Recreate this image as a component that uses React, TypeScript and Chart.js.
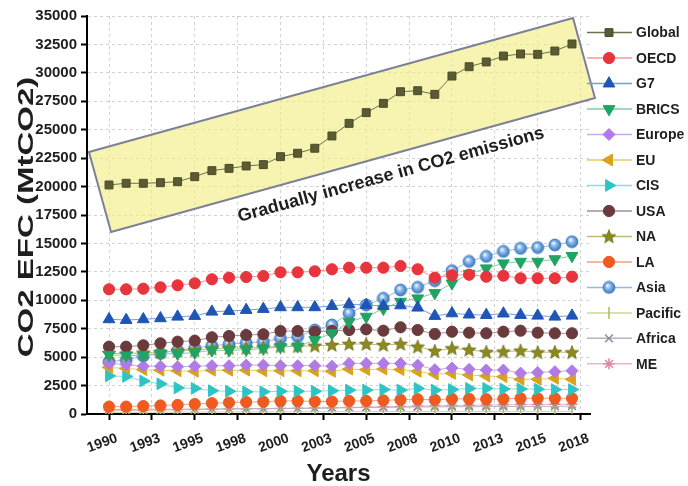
import React, { useEffect, useRef } from 'react';
import { Chart, registerables, PointElement } from 'chart.js';

Chart.register(...registerables);

const years = [1990, 1991, 1992, 1993, 1994, 1995, 1996, 1997, 1998, 1999, 2000, 2001, 2002, 2003, 2004, 2005, 2006, 2007, 2008, 2009, 2010, 2011, 2012, 2013, 2014, 2015, 2016, 2017];

const globalValues = [20140, 20290, 20290, 20340, 20430, 20870, 21400, 21600, 21810, 21930, 22630, 22930, 23370, 24450, 25560, 26500, 27320, 28340, 28430, 28110, 29720, 30540, 30960, 31480, 31660, 31630, 31920, 32540];
const oecdValues = [10966, 10966, 11019, 11142, 11318, 11494, 11846, 11986, 12048, 12136, 12461, 12461, 12549, 12725, 12866, 12866, 12866, 13015, 12725, 11986, 12200, 12250, 12074, 12162, 11934, 11934, 11934, 12074];
const g7Values = [8328, 8266, 8328, 8416, 8557, 8618, 8996, 9058, 9146, 9234, 9383, 9383, 9383, 9498, 9647, 9586, 9500, 9550, 9350, 8620, 8850, 8740, 8706, 8830, 8706, 8645, 8557, 8645];
const bricsValues = [5200, 5150, 5150, 5300, 5300, 5400, 5600, 5600, 5650, 5750, 5900, 5950, 6500, 7100, 8100, 8560, 9260, 9876, 10174, 10640, 11494, 12330, 12813, 13253, 13393, 13393, 13620, 13900];
const europeValues = [4450, 4350, 4200, 4200, 4150, 4200, 4250, 4250, 4300, 4300, 4250, 4250, 4250, 4200, 4450, 4450, 4450, 4450, 4300, 3900, 4050, 3930, 3870, 3870, 3600, 3650, 3720, 3810];
const euValues = [4100, 4000, 3900, 3850, 3800, 3750, 3850, 3850, 3850, 3800, 3800, 3800, 3800, 3750, 3950, 3900, 3950, 3900, 3750, 3500, 3580, 3430, 3340, 3280, 3050, 3050, 3140, 3050];
const cisValues = [3350, 3300, 2900, 2650, 2300, 2250, 2050, 2000, 1950, 1950, 2000, 2000, 2000, 2050, 2100, 2100, 2150, 2100, 2250, 2100, 2150, 2250, 2250, 2200, 2200, 2180, 2150, 2150];
const usaValues = [5918, 5918, 6041, 6217, 6358, 6446, 6745, 6859, 6947, 7009, 7299, 7299, 7237, 7300, 7387, 7450, 7325, 7625, 7387, 7035, 7237, 7150, 7097, 7237, 7325, 7150, 7097, 7097];
const naValues = [5350, 5300, 5400, 5450, 5550, 5600, 5750, 5800, 5800, 5850, 5950, 5950, 6000, 6068, 6156, 6156, 6068, 6156, 5918, 5540, 5774, 5650, 5450, 5480, 5567, 5420, 5450, 5420];
const laValues = [650, 650, 700, 750, 800, 880, 950, 1000, 1050, 1080, 1150, 1150, 1100, 1100, 1150, 1150, 1200, 1250, 1300, 1250, 1330, 1330, 1300, 1330, 1380, 1380, 1380, 1380];
const asiaValues = [4600, 4750, 5100, 5335, 5600, 5800, 6000, 6150, 6250, 6350, 6650, 6800, 7387, 7827, 8855, 9586, 10174, 10905, 11142, 11722, 12602, 13420, 13860, 14300, 14570, 14640, 14862, 15150];
const pacificValues = [150, 150, 160, 160, 170, 170, 180, 180, 190, 190, 200, 200, 200, 210, 210, 210, 220, 220, 220, 220, 230, 230, 230, 230, 230, 230, 230, 230];
const africaValues = [400, 400, 410, 420, 420, 430, 450, 460, 470, 480, 500, 500, 510, 530, 560, 570, 580, 600, 620, 620, 640, 640, 650, 660, 660, 670, 680, 690];
const meValues = [300, 310, 330, 350, 370, 390, 410, 430, 450, 460, 480, 500, 520, 550, 580, 610, 640, 670, 700, 720, 750, 770, 790, 810, 830, 840, 850, 860];

const seriesNames = ['Global', 'OECD', 'G7', 'BRICS', 'Europe', 'EU', 'CIS', 'USA', 'NA', 'LA', 'Asia', 'Pacific', 'Africa', 'ME'];
const seriesValues = [globalValues, oecdValues, g7Values, bricsValues, europeValues, euValues, cisValues, usaValues, naValues, laValues, asiaValues, pacificValues, africaValues, meValues];

const xTickValues = [1990, 1992.5, 1995, 1997.5, 2000, 2002.5, 2005, 2007.5, 2010, 2012.5, 2015, 2017.5];
const xTickLabels = ['1990', '1993', '1995', '1998', '2000', '2003', '2005', '2008', '2010', '2013', '2015', '2018'];

const yTitle = 'CO2 EFC (MtCO2)';
const xTitle = 'Years';
const annotationText = 'Gradually increase in CO2 emissions';
const boxCorners = [[1988.83, 23040], [2017.06, 34824], [2018.34, 27789], [1990.12, 16005]];
const textAnchor = [2006.44, 21018];

const FONT = '"Liberation Sans", Arial, sans-serif';

function makeStar(fill: string, stroke: string) {
  const c = document.createElement('canvas');
  c.width = 16; c.height = 16;
  const g = c.getContext('2d')!;
  g.beginPath();
  for (let i = 0; i < 10; i++) {
    const r = i % 2 === 0 ? 7.2 : 3.1;
    const a = -Math.PI / 2 + (i * Math.PI) / 5;
    const px = 8 + r * Math.cos(a), py = 8.5 + r * Math.sin(a);
    if (i === 0) g.moveTo(px, py); else g.lineTo(px, py);
  }
  g.closePath();
  g.fillStyle = fill; g.fill();
  g.strokeStyle = stroke; g.lineWidth = 0.8; g.stroke();
  return c;
}

function makeBall() {
  const c = document.createElement('canvas');
  c.width = 14; c.height = 14;
  const g = c.getContext('2d')!;
  const grad = g.createRadialGradient(5.5, 5, 0.5, 7, 7, 6.5);
  grad.addColorStop(0, '#eef6ff');
  grad.addColorStop(0.35, '#8dbbec');
  grad.addColorStop(1, '#2f6fb8');
  g.beginPath(); g.arc(7, 7, 6, 0, Math.PI * 2);
  g.fillStyle = grad; g.fill();
  g.strokeStyle = '#3c78bd'; g.lineWidth = 0.8; g.stroke();
  return c;
}

export default function App() {
  const ref = useRef<HTMLCanvasElement>(null);
  useEffect(() => {
    document.body.style.margin = '0';
    const canvas = ref.current!;
    const starImg = makeStar('#8a8a1e', '#6e6e14');
    const ballImg = makeBall();

    const styles: any[] = [
      { ps: 'rect', r: 5.6, rot: 0, bg: '#5b5b33', bc: '#4a4a28', bw: 1, line: '#6f6f4a' },
      { ps: 'circle', r: 5.6, rot: 0, bg: '#e8343c', bc: '#e8343c', bw: 1, line: '#f29a9a' },
      { ps: 'triangle', r: 6.8, rot: 0, bg: '#1f55b5', bc: '#1f55b5', bw: 1, line: '#7a9ad8' },
      { ps: 'triangle', r: 6.8, rot: 180, bg: '#1fa463', bc: '#1fa463', bw: 1, line: '#86cba4' },
      { ps: 'rectRot', r: 6, rot: 0, bg: '#b07be6', bc: '#b07be6', bw: 1, line: '#caa9ef' },
      { ps: 'triangle', r: 6.8, rot: -90, bg: '#d9a21a', bc: '#d9a21a', bw: 1, line: '#e8c870' },
      { ps: 'triangle', r: 6.8, rot: 90, bg: '#2ec4c6', bc: '#2ec4c6', bw: 1, line: '#8adede' },
      { ps: 'circle', r: 5.6, rot: 0, bg: '#6b3a3d', bc: '#6b3a3d', bw: 1, line: '#ab8c8e' },
      { ps: starImg, r: 6, rot: 0, bg: '#8a8a1e', bc: '#8a8a1e', bw: 1, line: '#bcbc74' },
      { ps: 'circle', r: 5.6, rot: 0, bg: '#f05a1e', bc: '#f05a1e', bw: 1, line: '#f5a27c' },
      { ps: ballImg, r: 6, rot: 0, bg: '#5b9bd5', bc: '#3c78bd', bw: 1, line: '#94bbe8' },
      { ps: 'line', r: 6, rot: 90, bg: '#b5c86a', bc: '#a8bc58', bw: 1.5, line: '#cbdb94' },
      { ps: 'crossRot', r: 5.5, rot: 0, bg: '#8c8c9c', bc: '#8c8c9c', bw: 1.5, line: '#b4b4c0' },
      { ps: 'star', r: 5.5, rot: 0, bg: '#e88aa6', bc: '#e8829f', bw: 1.5, line: '#f2b4c4' },
    ];

    const datasets = seriesNames.map((name, i) => {
      const s = styles[i];
      return {
        label: name,
        data: years.map((yr, j) => ({ x: yr, y: seriesValues[i][j] })),
        borderColor: s.line,
        backgroundColor: s.bg,
        borderWidth: 1,
        pointStyle: s.ps,
        pointRadius: s.r,
        pointRotation: s.rot,
        pointBackgroundColor: s.bg,
        pointBorderColor: s.bc,
        pointBorderWidth: s.bw,
        tension: 0,
      };
    });

    const boxPlugin = {
      id: 'boxPlugin',
      beforeDatasetsDraw(chart: any) {
        const { ctx, scales } = chart;
        const xs = scales.x, ys = scales.y;
        const pts = boxCorners.map(([a, b]) => [xs.getPixelForValue(a), ys.getPixelForValue(b)]);
        ctx.save();
        ctx.beginPath();
        pts.forEach(([px, py], i) => (i === 0 ? ctx.moveTo(px, py) : ctx.lineTo(px, py)));
        ctx.closePath();
        ctx.fillStyle = 'rgba(242,236,128,0.62)';
        ctx.fill();
        ctx.strokeStyle = '#7c8098';
        ctx.lineWidth = 2;
        ctx.stroke();
        const ang = Math.atan2(pts[1][1] - pts[0][1], pts[1][0] - pts[0][0]);
        ctx.translate(xs.getPixelForValue(textAnchor[0]), ys.getPixelForValue(textAnchor[1]));
        ctx.rotate(ang);
        ctx.fillStyle = '#1e1e1e';
        ctx.font = 'bold 18px ' + FONT;
        ctx.textAlign = 'center';
        ctx.textBaseline = 'middle';
        ctx.fillText(annotationText, 0, 0);
        ctx.restore();
      },
    };

    const titlePlugin = {
      id: 'yTitle',
      afterDraw(chart: any) {
        const { ctx, chartArea } = chart;
        ctx.save();
        ctx.translate(27, (chartArea.top + chartArea.bottom) / 2 + 2);
        ctx.rotate(-Math.PI / 2);
        ctx.scale(1.5, 1);
        ctx.fillStyle = '#1e1e1e';
        ctx.font = 'bold 22px ' + FONT;
        ctx.textAlign = 'center';
        ctx.textBaseline = 'middle';
        ctx.fillText(yTitle, 0, 0);
        ctx.restore();
      },
    };

    const legendPlugin = {
      id: 'customLegend',
      afterDraw(chart: any) {
        const { ctx } = chart;
        ctx.save();
        const area = { left: 0, top: 0, right: 688, bottom: 486 };
        seriesNames.forEach((name, i) => {
          const s = styles[i];
          const y = 32.6 + i * 25.48;
          ctx.beginPath();
          ctx.strokeStyle = s.line;
          ctx.lineWidth = 1.5;
          ctx.moveTo(587, y);
          ctx.lineTo(632, y);
          ctx.stroke();
          const pe: any = new (PointElement as any)({
            x: 609, y,
            options: { pointStyle: s.ps, radius: s.r, rotation: s.rot, backgroundColor: s.bg, borderColor: s.bc, borderWidth: s.bw },
          });
          pe.draw(ctx, area);
          ctx.fillStyle = '#1e1e1e';
          ctx.font = 'bold 14px ' + FONT;
          ctx.textAlign = 'left';
          ctx.textBaseline = 'middle';
          ctx.fillText(name, 636, y + 1);
        });
        ctx.restore();
      },
    };

    const gridCommon = {
      color: '#d2d2d2',
      lineWidth: 1,
      tickColor: '#000',
      tickWidth: 2,
      tickLength: 6,
      tickBorderDash: [],
    };

    const chart = new Chart(canvas, {
      type: 'line',
      data: { datasets } as any,
      options: {
        animation: false,
        responsive: false,
        maintainAspectRatio: false,
        layout: { padding: { left: 0, top: 16, right: 98, bottom: 0 } },
        plugins: { legend: { display: false }, tooltip: { enabled: false } },
        scales: {
          x: {
            type: 'linear',
            min: 1988.717,
            max: 2018.05,
            afterBuildTicks: (s: any) => { s.ticks = xTickValues.map((v) => ({ value: v })); },
            afterFit: (s: any) => { s.height = 72; },
            ticks: {
              callback: (_v: any, i: number) => xTickLabels[i],
              font: { size: 14, weight: 'bold', family: FONT },
              color: '#1e1e1e',
              minRotation: 20,
              maxRotation: 20,
              labelOffset: 8,
              padding: 10,
            },
            grid: gridCommon,
            border: { display: true, color: '#000', width: 2, dash: [3, 3] },
            title: {
              display: true,
              text: xTitle,
              color: '#1e1e1e',
              font: { size: 24, weight: 'bold', lineHeight: 1, family: FONT },
              padding: { top: 0, bottom: 0 },
            },
          },
          y: {
            type: 'linear',
            min: 0,
            max: 35000,
            afterFit: (s: any) => { s.width = 87; },
            ticks: {
              stepSize: 2500,
              callback: (v: any) => String(v),
              font: { size: 15, weight: 'bold', family: FONT },
              color: '#1e1e1e',
              padding: 4,
            },
            grid: gridCommon,
            border: { display: true, color: '#000', width: 2, dash: [3, 3] },
          },
        },
      } as any,
      plugins: [boxPlugin, titlePlugin, legendPlugin],
    });
    return () => chart.destroy();
  }, []);
  return (
    <div style={{ width: 688, height: 486 }}>
      <canvas ref={ref} width={688} height={486} style={{ display: 'block' }} />
    </div>
  );
}
